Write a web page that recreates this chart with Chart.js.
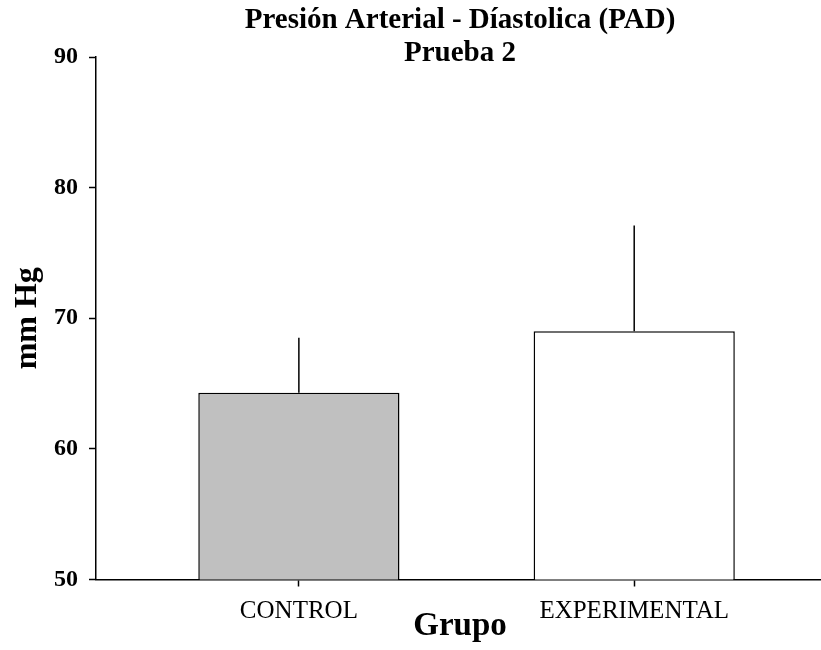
<!DOCTYPE html>
<html>
<head>
<meta charset="utf-8">
<script src="https://cdn.jsdelivr.net/npm/chart.js@4/dist/chart.umd.min.js"></script>
<style>
  html, body { margin: 0; padding: 0; background: #fff; overflow: hidden; }
  #wrap { width: 824px; height: 650px; }
</style>
</head>
<body>
<div id="wrap"><canvas id="padChart" width="824" height="650"></canvas></div>
<script>
// data (mean and SD, mm Hg)
const groups = ['CONTROL', 'EXPERIMENTAL'];
const means = [64.3, 69.0];
const sds = [4.2, 8.1];
const yTicks = [50, 60, 70, 80, 90];

const barColors = ['#c0c0c0', '#ffffff'];
const serif = "'Liberation Serif', 'Times New Roman', serif";

// SD whiskers, upward only, no caps
const errorBars = {
    id: 'errorBars',
    afterDatasetsDraw(chart) {
        const ctx = chart.ctx;
        const yScale = chart.scales.y;
        const meta = chart.getDatasetMeta(0);
        ctx.save();
        ctx.strokeStyle = '#000';
        ctx.lineWidth = 1.5;
        meta.data.forEach(function (bar, i) {
            const top = yScale.getPixelForValue(means[i] + sds[i]);
            ctx.beginPath();
            ctx.moveTo(bar.x, bar.y);
            ctx.lineTo(bar.x, top);
            ctx.stroke();
        });
        ctx.restore();
    }
};

const ctx = document.getElementById('padChart');

new Chart(ctx, {
    type: 'bar',
    data: {
        datasets: [{
            data: means.map(function (v, i) { return { x: i, y: v }; }),
            backgroundColor: barColors,
            borderColor: '#000',
            borderWidth: 1.5,
            barPercentage: 0.6,
            categoryPercentage: 1.0
        }]
    },
    options: {
        responsive: false,
        animation: false,
        devicePixelRatio: 1,
        layout: { padding: 0 },
        plugins: {
            legend: { display: false },
            tooltip: { enabled: false },
            title: {
                display: true,
                fullSize: false,
                text: ['Presión Arterial - Díastolica (PAD)', 'Prueba 2'],
                color: '#000',
                font: { family: serif, size: 29, weight: 'bold', lineHeight: 1.14 },
                padding: { top: 4, bottom: -13.1 }
            }
        },
        scales: {
            x: {
                type: 'linear',
                offset: false,
                min: -0.605,
                max: 1.566,
                afterBuildTicks: function (scale) {
                    scale.ticks = groups.map(function (g, i) { return { value: i }; });
                },
                ticks: {
                    color: '#000',
                    padding: 10,
                    maxRotation: 0,
                    font: { family: serif, size: 25 },
                    callback: function (v) { return groups[v]; }
                },
                grid: {
                    offset: false,
                    drawOnChartArea: false,
                    tickLength: 7,
                    tickColor: '#000',
                    tickWidth: 1.5
                },
                border: { color: '#000', width: 1.5 },
                title: {
                    display: true,
                    text: 'Grupo',
                    color: '#000',
                    font: { family: serif, size: 33, weight: 'bold' },
                    padding: { top: -30.3, bottom: 4.2 }
                }
            },
            y: {
                min: 50,
                max: 90,
                afterBuildTicks: function (scale) {
                    scale.ticks = yTicks.map(function (v) { return { value: v }; });
                },
                ticks: {
                    color: '#000',
                    padding: 11,
                    font: { family: serif, size: 24, weight: 'bold' }
                },
                grid: {
                    drawOnChartArea: false,
                    tickLength: 7,
                    tickColor: '#000',
                    tickWidth: 1.5
                },
                border: { color: '#000', width: 1.5 },
                title: {
                    display: true,
                    text: 'mm Hg',
                    color: '#000',
                    font: { family: serif, size: 32, weight: 'bold' },
                    padding: { top: 9, bottom: -4.4 }
                }
            }
        }
    },
    plugins: [errorBars]
});
</script>
</body>
</html>
